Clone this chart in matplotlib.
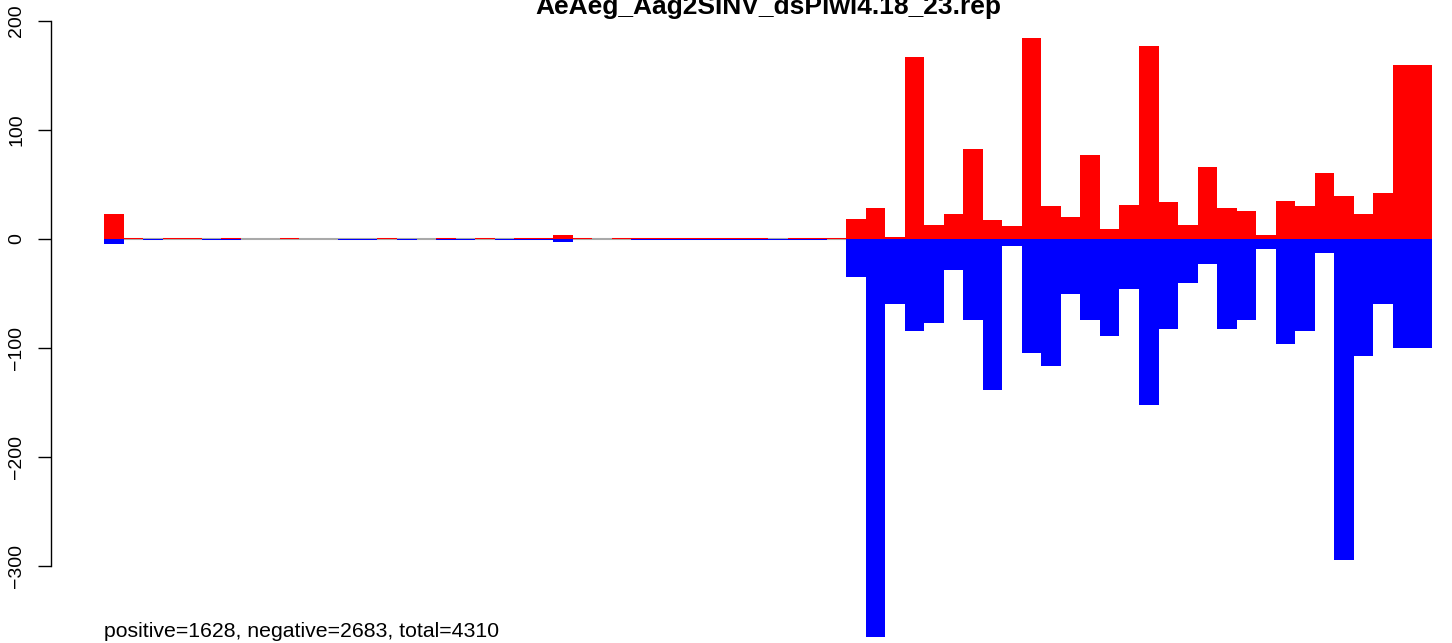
import numpy as np
import matplotlib
matplotlib.use("Agg")
import matplotlib.pyplot as plt

plt.rcParams['font.family'] = ['Liberation Sans', 'DejaVu Sans']

title = "AeAeg_Aag2SINV_dsPiwi4.18_23.rep"
summary = "positive=1628, negative=2683, total=4310"

# per-bin counts (68 bins)
positive = [23, 1, 0, 1, 1, 0, 1, 0, 0, 1, 0, 0, 0, 0, 1, 0, 0, 1, 0, 1,
            0, 1, 1, 3, 1, 0, 1, 1, 1, 1, 1, 1, 1, 1, 0, 1, 1, 1,
            18, 28, 2, 167, 13, 23, 82, 17, 12, 184, 30, 20, 77, 9, 31, 177,
            34, 13, 66, 28, 25, 3, 35, 30, 60, 39, 23, 42, 159, 159]
negative = [-5, 0, -1, 0, 0, -1, -1, 0, 0, 0, 0, 0, -1, -1, 0, -1, 0, -1, -1, 0,
            -1, -1, -1, -3, 0, 0, 0, -1, -1, -1, -1, -1, -1, -1, -1, -1, -1, 0,
            -35, -365, -60, -85, -77, -29, -75, -139, -7, -105, -117, -51, -75,
            -89, -46, -153, -83, -41, -23, -83, -75, -9, -97, -85, -13, -295,
            -108, -60, -100, -100]
yticks = [-300, -200, -100, 0, 100, 200]

n = len(positive)
x = np.arange(n)

W, H = 1452, 643
fig = plt.figure(figsize=(W / 100, H / 100), dpi=100)
# plot region runs a little past the right edge, like the cropped original
ax = fig.add_axes([51 / W, 0, 1434 / W, 1])

ax.hlines(0, 0, n, color='darkgray', linewidth=1.5, zorder=1)
ax.bar(x, positive, width=1, align='edge', color='red', linewidth=0, zorder=2)
ax.bar(x, negative, width=1, align='edge', color='blue', linewidth=0, zorder=2)

ax.set_xlim(-0.04 * n, n * 1.04)
ax.set_ylim(-370.9, 219.0)

for s in ['top', 'right', 'bottom']:
    ax.spines[s].set_visible(False)
ax.spines['left'].set_bounds(yticks[0], yticks[-1])
ax.spines['left'].set_linewidth(1)
ax.set_xticks([])
ax.set_yticks(yticks)
ax.set_yticklabels([str(t).replace('-', '\u2212') for t in yticks],
                   rotation=90, va='center', fontsize=14)
ax.tick_params(axis='y', length=9.4, width=1, pad=9)

fig.text(768 / W, 1 - 14 / H, title, ha='center', va='baseline',
         fontsize=19, fontweight='bold')
fig.text(104 / W, 1 - 637 / H, summary, ha='left', va='baseline', fontsize=15.3)

fig.savefig("out.png", dpi=100)
